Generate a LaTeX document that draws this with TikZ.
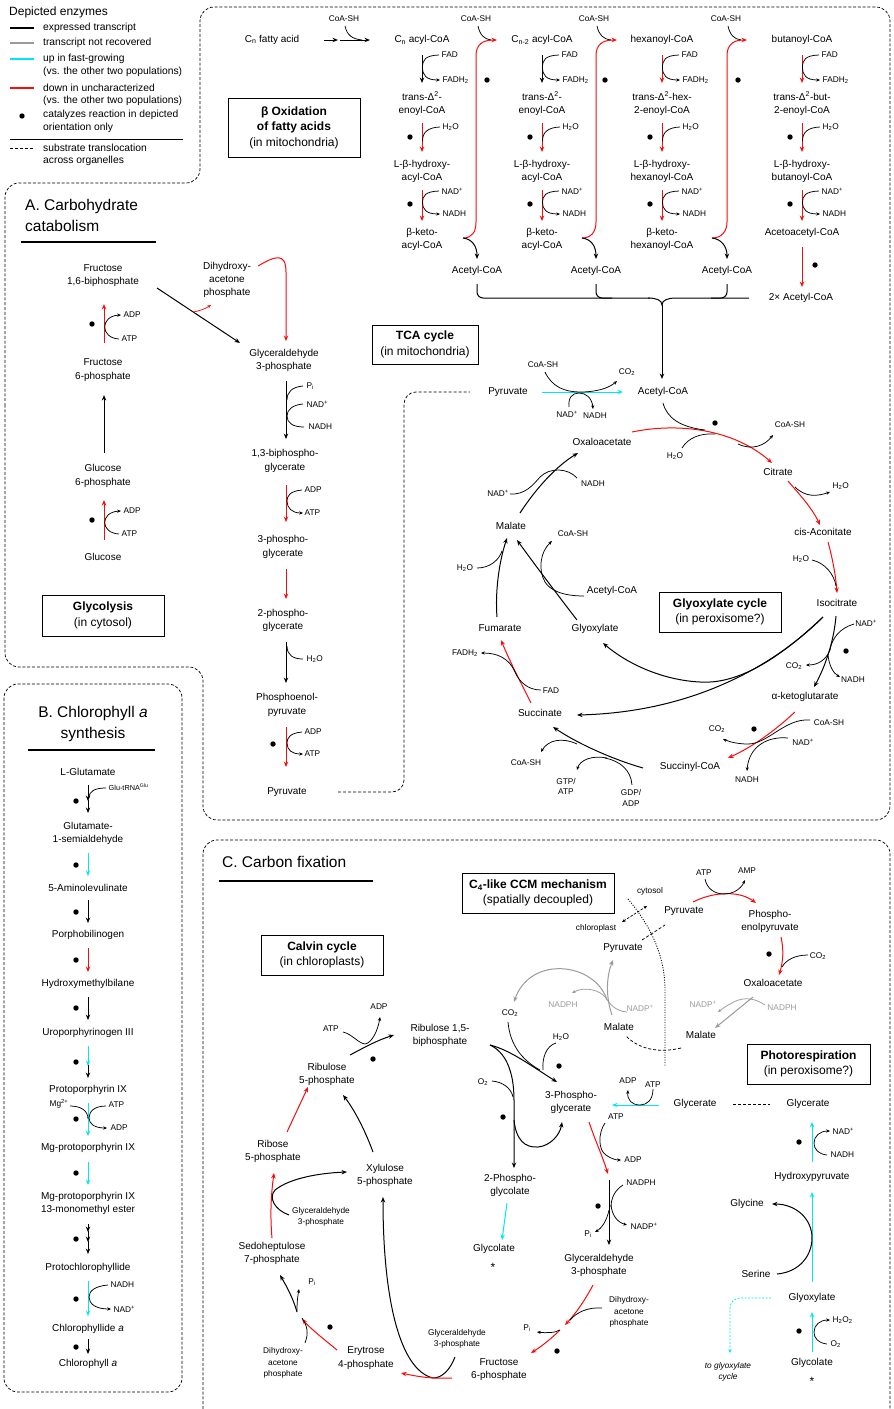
\documentclass[tikz,border=0pt]{standalone}
\usepackage{fontspec}
\setmainfont{Liberation Sans}
\usetikzlibrary{arrows.meta}
\definecolor{rd}{RGB}{250,12,12}
\definecolor{cy}{RGB}{0,232,245}
\definecolor{gy}{RGB}{155,155,155}
\newcommand\fmain{\fontsize{10}{13.2}\selectfont}
\newcommand\fsmall{\fontsize{8.3}{10.5}\selectfont}
\newcommand\ftiny{\fontsize{8.3}{11.3}\selectfont}
\newcommand\fbigt{\fontsize{15.5}{20}\selectfont}
\newcommand\fboxtxt{\fontsize{12}{15.5}\selectfont}
\newcommand\fleg{\fontsize{10.3}{13}\selectfont}
\tikzset{
  lab/.style={font=\fmain, inner sep=0.5pt, align=center},
  sm/.style={font=\fsmall, inner sep=0.5pt, align=center},
  xs/.style={font=\ftiny, inner sep=0.5pt, align=center},
  leg/.style={font=\fleg, inner sep=0pt, anchor=west},
  tbox/.style={draw, line width=0.8pt, font=\fboxtxt, align=center, inner sep=0pt},
  ar/.style={line width=1pt, -{Stealth[length=5.5pt,width=4.4pt]}},
  sa/.style={line width=0.75pt, -{Stealth[length=3.8pt,width=3.2pt]}},
  sl/.style={line width=0.75pt},
  dsh/.style={line width=0.75pt, dash pattern=on 3pt off 2pt},
  region/.style={line width=0.7pt, dash pattern=on 3pt off 1.8pt, rounded corners=14pt},
  star/.style={font=\fontsize{12}{12}\selectfont, inner sep=0pt},
}
\newcommand\dt[1]{\fill #1 circle (2.7pt);}
\newcommand\rxn[6]{%
  \draw[sa] ({#1+17},#2) .. controls ({#1+3},{#2+0.5}) and ({#1+0.5},{#2+5}) .. ({#1+0.5},{(#2+#3)/2}) .. controls ({#1+0.5},{#3-5}) and ({#1+4},{#3}) .. ({#1+18},#3);
  \node[sm,anchor=west] (#6a) at ({#1+19},#2) {#4};
  \node[sm,anchor=west] (#6b) at ({#1+20},#3) {#5};}
\newcommand\rin[4]{%
  \draw[sl] ({#1+18},#2) .. controls ({#1+6},{#2+0.5}) and ({#1+0.5},{#2+5}) .. ({#1+0.5},{#2+14});
  \node[sm,anchor=west] (#4) at ({#1+20},#2) {#3};}
\begin{document}
\begin{tikzpicture}[x=1pt,y=-1pt]
\fill[white] (0,0) rectangle (894,1409);
\useasboundingbox (0,0) rectangle (894,1409);

% ---------------- legend
\node[font=\fboxtxt, inner sep=0pt, anchor=west] (legt) at (9,12) {Depicted enzymes};
\draw[line width=1.1pt] (10,28) -- (34,28);
\draw[line width=1.1pt, gy] (10,43) -- (34,43);
\draw[line width=1.1pt, cy] (10,59) -- (34,59);
\draw[line width=1.1pt, rd] (10,88) -- (34,88);
\dt{(22,116)}
\draw[line width=0.9pt] (10,139) -- (183,139);
\draw[line width=0.9pt, dash pattern=on 3pt off 2pt] (10,148) -- (34,148);
\node[leg] (lg1) at (43,28) {expressed transcript};
\node[leg] (lg2) at (43,43) {transcript not recovered};
\node[leg] (lg3) at (43,59) {up in fast-growing};
\node[leg] (lg4) at (43,72) {(vs. the other two populations)};
\node[leg] (lg5) at (43,88) {down in uncharacterized};
\node[leg] (lg6) at (43,101) {(vs. the other two populations)};
\node[leg] (lg7) at (43,115) {catalyzes reaction in depicted};
\node[leg] (lg8) at (43,128) {orientation only};
\node[leg] (lg9) at (43,148) {substrate translocation};
\node[leg] (lg10) at (43,161) {across organelles};

% ---------------- region outlines
\draw[region] (5,420) -- (5,183) -- (200,183) -- (200,7) -- (890,7) -- (890,820) -- (203,820) -- (203,667) -- (5,667) -- cycle;
\draw[region] (4,684) rectangle (182,1392);
\draw[region] (203,840) rectangle (890,1425);

% ---------------- A title
\node[font=\fbigt, inner sep=0pt, anchor=west] (at1) at (25,206) {A. Carbohydrate};
\node[font=\fbigt, inner sep=0pt, anchor=west] (at2) at (25,226) {catabolism};
\draw[line width=1.2pt] (21,242) -- (156,242);

% ---------------- glycolysis, left column
\node[lab] (fbp) at (103,275.5) {Fructose\\1,6-biphosphate};
\node[lab] (f6p) at (103,370) {Fructose\\6-phosphate};
\node[lab] (g6p) at (103,476) {Glucose\\6-phosphate};
\node[lab] (glc) at (103,557) {Glucose};
\draw[ar, rd] (104,343) -- (104,304);
\dt{(92,324)}
\draw[sa] (119,339) .. controls (100,338) and (100,316) .. (121,315);
\node[sm, anchor=west] (adp1) at (123,315) {ADP};
\node[sm, anchor=west] (atp1) at (121,339) {ATP};
\draw[ar] (104,453) -- (104,395);
\draw[ar, rd] (104,540) -- (104,500);
\dt{(92,520)}
\draw[sa] (119,534) .. controls (100,533) and (100,512) .. (121,511);
\node[sm, anchor=west] (adp2) at (123,511) {ADP};
\node[sm, anchor=west] (atp2) at (121,534) {ATP};
\node[tbox, minimum width=122pt, minimum height=41pt] (glybox) at (103,615.5) {\textbf{Glycolysis}\\(in cytosol)};

% ---------------- glycolysis, middle column
\node[lab] (dhap) at (227,280) {Dihydroxy-\\acetone\\phosphate};
\draw[ar] (157,288) -- (240,343);
\draw[sa, rd] (193,312) .. controls (199,311) and (205,309) .. (211,305);
\draw[ar, rd] (258,266) .. controls (275,256) and (286,252) .. (286,272) -- (286,341);
\node[lab] (gap) at (284,360.5) {Glyceraldehyde\\3-phosphate};
\draw[ar] (286,381) -- (286,439);
\draw[sl] (303,386) .. controls (292,387) and (287,392) .. (287,400);
\draw[sl] (303,404) .. controls (292,405) and (287,410) .. (287,416) .. controls (287,423) and (293,427) .. (304,427);
\node[sm, anchor=west] (pi1) at (306,386) {P\textsubscript{i}};
\node[sm, anchor=west] (nad1) at (306,404) {NAD\textsuperscript{+}};
\node[sm, anchor=west] (nadh1) at (308,427) {NADH};
\node[lab] (bpg) at (285,461) {1,3-biphospho-\\glycerate};
\draw[ar, rd] (286,485) -- (286,522);
\draw[sa] (302,490) .. controls (290,491) and (287,496) .. (287,501) .. controls (287,508) and (292,513) .. (303,513);
\node[sm, anchor=west] (adp3) at (304,490) {ADP};
\node[sm, anchor=west] (atp3) at (304,513) {ATP};
\node[lab] (pg3) at (283,547) {3-phospho-\\glycerate};
\draw[ar, rd] (286,569) -- (286,599);
\node[lab] (pg2) at (283,620.5) {2-phospho-\\glycerate};
\draw[ar] (286,642) -- (286,683);
\draw[sl] (287,646) .. controls (287,655) and (293,659) .. (303,659);
\node[sm, anchor=west] (h2o1) at (306,659) {H\textsubscript{2}O};
\node[lab] (pep) at (287,705) {Phosphoenol-\\pyruvate};
\draw[ar, rd] (286,727) -- (286,767);
\dt{(273,744)}
\draw[sa] (302,732) .. controls (290,733) and (287,738) .. (287,743) .. controls (287,750) and (292,754) .. (303,754);
\node[sm, anchor=west] (adp4) at (304,732) {ADP};
\node[sm, anchor=west] (atp4) at (304,754) {ATP};
\node[lab] (pyr) at (287,792) {Pyruvate};
\draw[dsh, rounded corners=12pt] (338,792) -- (404,792) -- (404,392) -- (470,392);

\node[tbox, minimum width=106pt, minimum height=39pt] (tcabox) at (425,344.5) {\textbf{TCA cycle}\\(in mitochondria)};

% ---------------- beta oxidation
\node[tbox, minimum width=132pt, minimum height=59pt] (bbox) at (294,127.5) {\textbf{β Oxidation}\\\textbf{of fatty acids}\\(in mitochondria)};
\node[lab] (fa) at (272,39.5) {C\textsubscript{n} fatty acid};
\draw[ar] (324,40) -- (338,40);
\draw[ar] (340,40) -- (370,40);
\draw[sl] (345,26) .. controls (347,35) and (352,39) .. (362,40);
\node[sm] (coa0) at (344,19) {CoA-SH};
% column 1
\node[lab] (b1a) at (422,40) {C\textsubscript{n} acyl-CoA};
\draw[ar] (422,55) -- (422,83);
\rxn{422}{55}{80}{FAD}{FADH\textsubscript{2}}{b1f}
\node[lab] (b1b) at (422,103.5) {trans-Δ\textsuperscript{2}-\\enoyl-CoA};
\draw[ar,rd] (422,123) -- (422,152);
\dt{(410,137)}
\rin{422}{127}{H\textsubscript{2}O}{b1h}
\node[lab] (b1c) at (422,171.5) {L-β-hydroxy-\\acyl-CoA};
\draw[ar,rd] (422,190) -- (422,221);
\dt{(410,204)}
\rxn{422}{191}{214}{NAD\textsuperscript{+}}{NADH}{b1n}
\node[lab] (b1d) at (422,239.5) {β-keto-\\acyl-CoA};
% column 2
\node[lab] (b2a) at (542,40) {C\textsubscript{n-2} acyl-CoA};
\draw[ar] (542,55) -- (542,83);
\rxn{542}{55}{80}{FAD}{FADH\textsubscript{2}}{b2f}
\node[lab] (b2b) at (542,103.5) {trans-Δ\textsuperscript{2}-\\enoyl-CoA};
\draw[ar,rd] (542,123) -- (542,152);
\dt{(530,137)}
\rin{542}{127}{H\textsubscript{2}O}{b2h}
\node[lab] (b2c) at (542,171.5) {L-β-hydroxy-\\acyl-CoA};
\draw[ar,rd] (542,190) -- (542,221);
\dt{(530,204)}
\rxn{542}{191}{214}{NAD\textsuperscript{+}}{NADH}{b2n}
\node[lab] (b2d) at (542,239.5) {β-keto-\\acyl-CoA};
% column 3
\node[lab] (b3a) at (662,40) {hexanoyl-CoA};
\draw[ar,rd] (662,55) -- (662,83);
\rxn{662}{55}{80}{FAD}{FADH\textsubscript{2}}{b3f}
\node[lab] (b3b) at (662,103.5) {trans-Δ\textsuperscript{2}-hex-\\2-enoyl-CoA};
\draw[ar,rd] (662,123) -- (662,152);
\dt{(650,137)}
\rin{662}{127}{H\textsubscript{2}O}{b3h}
\node[lab] (b3c) at (662,171.5) {L-β-hydroxy-\\hexanoyl-CoA};
\draw[ar,rd] (662,190) -- (662,221);
\dt{(650,204)}
\rxn{662}{191}{214}{NAD\textsuperscript{+}}{NADH}{b3n}
\node[lab] (b3d) at (662,239.5) {β-keto-\\hexanoyl-CoA};
% column 4
\node[lab] (b4a) at (802,40) {butanoyl-CoA};
\draw[ar,rd] (802,55) -- (802,83);
\rxn{802}{55}{80}{FAD}{FADH\textsubscript{2}}{b4f}
\node[lab] (b4b) at (802,103.5) {trans-Δ\textsuperscript{2}-but-\\2-enoyl-CoA};
\draw[ar,rd] (802,123) -- (802,152);
\dt{(790,137)}
\rin{802}{127}{H\textsubscript{2}O}{b4h}
\node[lab] (b4c) at (802,171.5) {L-β-hydroxy-\\butanoyl-CoA};
\draw[ar,rd] (802,190) -- (802,221);
\dt{(790,204)}
\rxn{802}{191}{214}{NAD\textsuperscript{+}}{NADH}{b4n}
\node[lab] (b4d) at (802,233) {Acetoacetyl-CoA};
\draw[ar,rd] (802,247) -- (802,287);
\dt{(815,265)}
\node[lab] (acx) at (801,298) {2× Acetyl-CoA};
% thiolase steps
\draw[ar, rd] (463,238) .. controls (472,238) and (476,232) .. (476,222) -- (476,56) .. controls (476,45) and (482,40) .. (497,40);
\draw[ar] (463,238) .. controls (472,239) and (477,246) .. (477,259);
\draw[sl] (478,26) .. controls (480,35) and (484,39) .. (491,40);
\node[sm] (coa1) at (476,19) {CoA-SH};
\dt{(487,80)}
\node[lab] (ac1) at (477,271) {Acetyl-CoA};
\draw[ar, rd] (582,238) .. controls (591,238) and (596,232) .. (596,222) -- (596,56) .. controls (596,45) and (602,40) .. (617,40);
\draw[ar] (582,238) .. controls (591,239) and (596,246) .. (596,259);
\draw[sl] (597,26) .. controls (599,35) and (603,39) .. (611,40);
\node[sm] (coa2) at (594,19) {CoA-SH};
\dt{(605,80)}
\node[lab] (ac2) at (596,271) {Acetyl-CoA};
\draw[ar, rd] (712,238) .. controls (721,238) and (727,232) .. (727,222) -- (727,56) .. controls (727,45) and (733,40) .. (747,40);
\draw[ar] (712,238) .. controls (721,239) and (727,246) .. (727,259);
\draw[sl] (728,26) .. controls (730,35) and (734,39) .. (741,40);
\node[sm] (coa3) at (726,19) {CoA-SH};
\dt{(738,80)}
\node[lab] (ac3) at (727,271) {Acetyl-CoA};
% bracket
\draw[line width=1pt, rounded corners=6pt] (477,284) -- (477,298) -- (650,298);
\draw[line width=1pt, rounded corners=6pt] (596,284) -- (596,298) -- (612,298);
\draw[line width=1pt, rounded corners=6pt] (727,284) -- (727,298) -- (711,298);
\draw[line width=1pt] (648,298) .. controls (656,298) and (662,300) .. (662,305) .. controls (662,300) and (668,298) .. (676,298) -- (749,298);

% ---------------- TCA cycle
\node[lab] (tpyr) at (508,392) {Pyruvate};
\node[lab] (tacc) at (663,392) {Acetyl-CoA};
\draw[ar] (662,305) -- (662,379);
\draw[ar, cy] (542,392) -- (623,392);
\draw[sa] (545,372) .. controls (552,387) and (565,392) .. (580,392) .. controls (597,392) and (609,388) .. (617,381);
\node[sm] (tcoa1) at (543,365) {CoA-SH};
\node[sm] (tco21) at (627,372) {CO\textsubscript{2}};
\draw[sa] (569,407) .. controls (568,398) and (572,393) .. (579,393) .. controls (586,393) and (592,398) .. (593,409);
\node[sm] (tnad1) at (567,414) {NAD\textsuperscript{+}};
\node[sm] (tnadh1) at (595,416) {NADH};
\node[lab] (oaa) at (602,442) {Oxaloacetate};
\node[lab] (cit) at (778,472) {Citrate};
\draw[ar, rd] (632,432) .. controls (680,422) and (735,430) .. (772,463);
\draw[sl] (663,403) .. controls (667,418) and (680,427) .. (705,430);
\draw[sl] (682,448) .. controls (688,438) and (700,433) .. (715,434);
\draw[sa] (738,444) .. controls (753,451) and (765,445) .. (773,435);
\node[sm] (th2o1) at (675,456) {H\textsubscript{2}O};
\node[sm] (tcoa2) at (790,425) {CoA-SH};
\dt{(715,423)}
\draw[ar, rd] (788,481) .. controls (800,495) and (812,508) .. (820,525);
\draw[sa] (795,487) .. controls (806,498) and (818,496) .. (830,492);
\node[sm, anchor=west] (th2o2) at (832,486) {H\textsubscript{2}O};
\node[lab] (cis) at (823,532) {cis-Aconitate};
\draw[ar, rd] (828,542) .. controls (833,560) and (836,578) .. (837,593);
\draw[sl] (812,560) .. controls (825,563) and (834,574) .. (836,586);
\node[sm] (th2o3) at (801,559) {H\textsubscript{2}O};
\node[lab] (iso) at (837,603) {Isocitrate};
\draw[ar] (836,616) .. controls (834,640) and (826,665) .. (814,687);
\draw[sl] (854,624) .. controls (840,628) and (832,638) .. (830,650);
\draw[sa] (830,650) .. controls (826,660) and (818,665) .. (806,665);
\draw[sa] (828,655) .. controls (829,665) and (833,673) .. (840,677);
\node[sm] (tnad2) at (866,623) {NAD\textsuperscript{+}};
\node[sm] (tco22) at (794,666) {CO\textsubscript{2}};
\node[sm] (tnadh2) at (853,680) {NADH};
\dt{(846,651)}
\node[lab] (akg) at (805,697) {α-ketoglutarate};
\draw[ar, rd] (795,712) .. controls (772,733) and (752,747) .. (728,758);
\draw[sa] (810,720) .. controls (785,718) and (768,744) .. (748,744) .. controls (738,744) and (730,742) .. (723,739);
\draw[sa] (788,738) .. controls (768,736) and (749,746) .. (747,771);
\node[sm] (tcoa3) at (829,723) {CoA-SH};
\node[sm] (tnad3) at (803,742) {NAD\textsuperscript{+}};
\node[sm] (tco23) at (717,729) {CO\textsubscript{2}};
\node[sm] (tnadh3) at (747,780) {NADH};
\dt{(754,729)}
\node[lab] (scoa) at (690,767) {Succinyl-CoA};
\draw[ar] (643,768) .. controls (615,760) and (580,745) .. (553,727);
\draw[sl] (632,785) .. controls (631,770) and (620,761) .. (605,758);
\draw[sa] (607,758) .. controls (592,755) and (580,760) .. (577,770);
\draw[sa] (577,744) .. controls (562,737) and (548,740) .. (541,752);
\node[sm] (tgdp) at (631,798) {GDP/\\ADP};
\node[sm] (tgtp) at (566,786.5) {GTP/\\ATP};
\node[sm] (tcoa4) at (526,763) {CoA-SH};
\node[lab] (succ) at (540,713) {Succinate};
\draw[ar, rd] (531,703) .. controls (522,685) and (510,662) .. (501,640);
\draw[sl] (541,690) .. controls (527,690) and (519,681) .. (515,672);
\draw[sa] (515,672) .. controls (509,658) and (497,653) .. (481,653);
\node[sm] (tfad) at (551,691) {FAD};
\node[sm] (tfadh) at (465,653) {FADH\textsubscript{2}};
\node[lab] (fum) at (500,628) {Fumarate};
\draw[ar] (497,617) .. controls (495,592) and (499,562) .. (507,538);
\draw[sl] (477,568) .. controls (490,568) and (499,560) .. (502,551);
\node[sm] (th2o4) at (465,568) {H\textsubscript{2}O};
\node[lab] (mal) at (511,526) {Malate};
\draw[ar] (520,513) .. controls (535,490) and (555,467) .. (578,453);
\draw[sl] (510,494) .. controls (525,495) and (533,485) .. (540,477) .. controls (550,467) and (568,468) .. (577,478);
\node[sm] (tnad4) at (498,493) {NAD\textsuperscript{+}};
\node[sm] (tnadh4) at (593,484) {NADH};
% glyoxylate shunt
\draw[ar] (823,617) .. controls (790,648) and (745,685) .. (700,682) .. controls (660,680) and (625,662) .. (603,643);
\draw[ar] (823,617) .. controls (780,660) and (700,712) .. (577,715);
\node[lab] (glx) at (595,629) {Glyoxylate};
\draw[ar] (577,620) .. controls (560,598) and (535,565) .. (517,540);
\draw[sa] (584,596) .. controls (562,596) and (550,590) .. (545,582) .. controls (538,570) and (540,552) .. (552,541);
\node[lab] (acoa2) at (612,591) {Acetyl-CoA};
\node[sm] (tcoa5) at (573,534) {CoA-SH};
\node[tbox, minimum width=122pt, minimum height=40pt] (gxbox) at (720,612) {\textbf{Glyoxylate cycle}\\(in peroxisome?)};

% ---------------- B chlorophyll
\node[font=\fbigt, inner sep=0pt] (bt1) at (93,713) {B. Chlorophyll \textit{a}};
\node[font=\fbigt, inner sep=0pt] (bt2) at (93,734) {synthesis};
\draw[line width=1.2pt] (28,750) -- (155,750);
\node[lab] (lglu) at (88,772) {L-Glutamate};
\draw[ar] (88,785) -- (88,801);
\draw[ar] (88,800) -- (88,813);
\dt{(76,801)}
\draw[sl] (106,788) .. controls (95,788) and (89,791) .. (89,798);
\node[font=\fontsize{7.3}{9}\selectfont, inner sep=0.5pt, anchor=west] (trna) at (108,787) {Glu-tRNA\textsuperscript{Glu}};
\node[lab] (gsa) at (88,833.5) {Glutamate-\\1-semialdehyde};
\draw[ar, cy] (88,853) -- (88,876);
\dt{(76,865)}
\node[lab] (ala) at (88,888) {5-Aminolevulinate};
\draw[ar] (88,900) -- (88,923);
\dt{(76,912)}
\node[lab] (pbg) at (88,935) {Porphobilinogen};
\draw[ar, rd] (88,948) -- (88,972);
\dt{(76,960)}
\node[lab] (hmb) at (88,984) {Hydroxymethylbilane};
\draw[ar] (88,997) -- (88,1020);
\dt{(76,1008)}
\node[lab] (uro) at (88,1033) {Uroporphyrinogen III};
\draw[ar, cy] (88,1046) -- (88,1066);
\draw[ar] (88,1065) -- (88,1078);
\dt{(76,1062)}
\node[lab] (proto) at (88,1090) {Protoporphyrin IX};
\draw[ar, cy] (88,1103) -- (88,1136);
\dt{(76,1119)}
\draw[sl] (70,1106) .. controls (80,1106) and (88,1110) .. (88,1119);
\draw[sa] (106,1106) .. controls (95,1106) and (89,1111) .. (89,1118) .. controls (89,1124) and (95,1128) .. (107,1128);
\node[sm] (mg) at (59,1104) {Mg\textsuperscript{2+}};
\node[sm, anchor=west] (atpb) at (108,1105) {ATP};
\node[sm, anchor=west] (adpb) at (110,1128) {ADP};
\node[lab] (mgp) at (88,1148) {Mg-protoporphyrin IX};
\draw[ar, cy] (88,1162) -- (88,1185);
\dt{(76,1173)}
\node[lab] (mgpm) at (88,1203) {Mg-protoporphyrin IX\\13-monomethyl ester};
\draw[ar] (88,1224) -- (88,1232);
\draw[ar] (88,1231) -- (88,1242);
\draw[ar] (88,1241) -- (88,1254);
\dt{(76,1239)}
\node[lab] (pchl) at (88,1268) {Protochlorophyllide};
\draw[ar, cy] (88,1281) -- (88,1316);
\dt{(76,1299)}
\draw[sa] (108,1285) .. controls (95,1286) and (89,1291) .. (89,1297) .. controls (89,1304) and (96,1309) .. (111,1309);
\node[sm, anchor=west] (nadhb) at (110,1285) {NADH};
\node[sm, anchor=west] (nadb) at (113,1309) {NAD\textsuperscript{+}};
\node[lab] (chlide) at (88,1329) {Chlorophyllide \textit{a}};
\draw[ar] (88,1339) -- (88,1354);
\dt{(76,1347)}
\node[lab] (chl) at (88,1364) {Chlorophyll \textit{a}};

% ---------------- C carbon fixation
\node[font=\fbigt, inner sep=0pt, anchor=west] (ct) at (222,862) {C. Carbon fixation};
\draw[line width=1.2pt] (219,881) -- (373,881);
\node[tbox, minimum width=122pt, minimum height=40pt] (calbox) at (322,955) {\textbf{Calvin cycle}\\(in chloroplasts)};
% Calvin cycle
\node[lab] (rubp) at (440,1035.5) {Ribulose 1,5-\\biphosphate};
\node[lab] (ru5p) at (327,1074) {Ribulose\\5-phosphate};
\draw[ar] (350,1055) .. controls (365,1047) and (378,1040) .. (394,1035);
\draw[sa] (343,1032) .. controls (352,1034) and (358,1043) .. (365,1044) .. controls (372,1043) and (378,1030) .. (380,1017);
\node[sm] (atpc) at (331,1029) {ATP};
\node[sm] (adpc) at (379,1007) {ADP};
\dt{(373,1059)}
\draw[ar, rd] (287,1132) -- (308,1087);
\node[lab] (r5p) at (273,1151.5) {Ribose\\5-phosphate};
\draw[ar] (373,1152) .. controls (366,1133) and (356,1112) .. (343,1095);
\node[lab] (xu5p) at (385,1175) {Xylulose\\5-phosphate};
\draw[ar, rd] (272,1238) .. controls (270,1215) and (271,1195) .. (274,1173);
\draw[ar] (289,1215) .. controls (275,1210) and (268,1198) .. (275,1190) .. controls (290,1178) and (320,1173) .. (347,1172);
\node[xs] (g3pa) at (321,1216.5) {Glyceraldehyde\\3-phosphate};
\node[lab] (s7p) at (272,1253.5) {Sedoheptulose\\7-phosphate};
\draw[ar] (297,1312) .. controls (293,1298) and (287,1287) .. (280,1275);
\draw[sa] (297,1311) .. controls (297,1300) and (298,1295) .. (299,1289);
\node[sm] (pic) at (312,1282) {P\textsubscript{i}};
\draw[ar, rd] (337,1350) .. controls (325,1340) and (312,1330) .. (302,1319);
\draw[sl] (305,1343) .. controls (309,1333) and (307,1325) .. (302,1318);
\dt{(330,1327)}
\node[xs] (dhapc) at (283,1363) {Dihydroxy-\\acetone\\phosphate};
\node[lab] (e4p) at (366,1358) {Erytrose\\4-phosphate};
\draw[ar] (455,1357) .. controls (450,1370) and (442,1378) .. (433,1378) .. controls (400,1370) and (383,1300) .. (383,1197);
\draw[ar, rd] (452,1378) .. controls (430,1379) and (415,1376) .. (401,1373);
\node[xs] (g3pb) at (457,1338.5) {Glyceraldehyde\\3-phosphate};
\node[lab] (f6pc) at (499,1369.5) {Fructose\\6-phosphate};
% RuBisCO
\node[lab] (pga) at (571,1102.5) {3-Phospho-\\glycerate};
\node[lab] (pgl) at (510,1185.5) {2-Phospho-\\glycolate};
\node[sm] (co2c) at (510,1013) {CO\textsubscript{2}};
\draw[sl] (508,1022) .. controls (510,1045) and (522,1060) .. (540,1070);
\draw[ar] (490,1045) .. controls (510,1050) and (530,1065) .. (557,1082);
\draw[ar] (490,1045) .. controls (505,1052) and (514,1070) .. (514,1100) -- (514,1168);
\draw[ar] (514,1120) .. controls (516,1140) and (525,1148) .. (538,1147) .. controls (550,1146) and (560,1135) .. (562,1122);
\draw[sl] (556,1043) .. controls (546,1046) and (542,1058) .. (543,1070);
\node[sm] (h2oc) at (561,1037) {H\textsubscript{2}O};
\dt{(559,1066)}
\draw[sl] (492,1081) .. controls (503,1082) and (511,1088) .. (513,1097);
\node[sm] (o2c) at (483,1082) {O\textsubscript{2}};
\dt{(503,1117)}
\draw[ar, cy] (507,1203) -- (502,1240);
\node[lab] (glyc) at (494,1249) {Glycolate};
\node[star] (star1) at (493,1267) {*};
% 3-PG reduction
\draw[ar, cy] (659,1105) -- (612,1105);
\draw[sa] (653,1089) .. controls (653,1100) and (647,1105) .. (640,1105) .. controls (632,1105) and (627,1100) .. (628,1090);
\node[sm] (adpd) at (628,1081) {ADP};
\node[sm] (atpd) at (653,1085) {ATP};
\node[lab] (glyc1) at (695,1104) {Glycerate};
\draw[dsh] (733,1104) -- (770,1104);
\node[lab] (glyc2) at (808,1104) {Glycerate};
\draw[ar, rd] (589,1122) .. controls (595,1140) and (602,1155) .. (608,1174);
\draw[sa] (605,1123) .. controls (598,1133) and (598,1150) .. (606,1155) .. controls (610,1158) and (615,1160) .. (621,1160);
\node[sm] (atpe) at (616,1117) {ATP};
\node[sm] (adpe) at (633,1160) {ADP};
\draw[ar] (609,1180) -- (609,1245);
\draw[sl] (623,1185) .. controls (615,1190) and (611,1198) .. (611,1207);
\draw[sa] (611,1205) .. controls (612,1215) and (617,1222) .. (627,1225);
\draw[sa] (609,1210) .. controls (607,1220) and (602,1228) .. (595,1232);
\node[sm] (nadphc) at (641,1183) {NADPH};
\node[sm] (nadpc) at (644,1226) {NADP\textsuperscript{+}};
\node[sm] (pie) at (588,1234) {P\textsubscript{i}};
\dt{(598,1206)}
\node[lab] (g3pc) at (599,1265) {Glyceraldehyde\\3-phosphate};
\draw[ar, rd] (593,1285) .. controls (585,1300) and (577,1312) .. (565,1325);
\draw[sl] (602,1308) .. controls (588,1307) and (577,1312) .. (570,1320);
\node[xs] (dhape) at (629,1312) {Dihydroxy-\\acetone\\phosphate};
\draw[ar, rd] (560,1330) .. controls (552,1338) and (542,1346) .. (531,1353);
\draw[sa] (560,1330) .. controls (555,1333) and (546,1333) .. (537,1332);
\node[sm] (pif) at (527,1328) {P\textsubscript{i}};
\dt{(557,1351)}
% C4-like CCM
\node[tbox, minimum width=152pt, minimum height=40pt] (c4box) at (538,893) {\textbf{C\textsubscript{4}-like CCM mechanism}\\(spatially decoupled)};
\node[sm] (cyto) at (650,891) {cytosol};
\node[sm] (chlp) at (596,928) {chloroplast};
\draw[line width=0.9pt, dash pattern=on 1pt off 1.5pt] (628,899) .. controls (650,925) and (665,955) .. (665,990) -- (665,1067);
\draw[line width=0.7pt, dash pattern=on 2.5pt off 1.5pt, {Stealth[length=3.5pt,width=3pt]}-{Stealth[length=3.5pt,width=3pt]}] (622,922) -- (647,906);
\node[lab] (pyrc) at (684,911) {Pyruvate};
\node[lab] (pyrk) at (623,948) {Pyruvate};
\draw[dsh] (642,940) -- (665,925);
\draw[ar, rd] (693,902) .. controls (715,891) and (740,891) .. (756,903);
\draw[sa] (705,879) .. controls (707,889) and (715,894) .. (724,894) .. controls (733,894) and (741,889) .. (745,880);
\node[sm] (atpf) at (704,873) {ATP};
\node[sm] (ampf) at (747,871) {AMP};
\node[lab] (pepc) at (770,921.5) {Phospho-\\enolpyruvate};
\draw[ar, rd] (781,937) .. controls (784,950) and (783,962) .. (779,975);
\draw[sl] (808,955) .. controls (795,955) and (786,960) .. (782,967);
\node[sm] (co2f) at (818,956) {CO\textsubscript{2}};
\dt{(769,954)}
\node[lab] (oaac) at (773,983) {Oxaloacetate};
\draw[ar, gy] (753,997) -- (715,1028);
\draw[sa, gy] (765,1005) .. controls (752,996) and (740,998) .. (732,1003) .. controls (726,1006) and (722,1009) .. (718,1012);
\node[sm, text=gy] (nadphf) at (782,1008) {NADPH};
\node[sm, text=gy] (nadpf) at (703,1004) {NADP\textsuperscript{+}};
\node[lab] (malc) at (701,1035) {Malate};
\draw[dsh] (681,1048) .. controls (660,1053) and (640,1050) .. (626,1036);
\node[lab] (malk) at (619,1027) {Malate};
\draw[ar, gy] (612,1015) .. controls (605,995) and (607,975) .. (613,960);
\draw[ar, gy] (607,1000) .. controls (595,962) and (530,955) .. (514,1002);
\draw[sa, gy] (627,1012) .. controls (615,1011) and (610,1004) .. (606,998) .. controls (600,990) and (585,986) .. (572,993);
\node[sm, text=gy] (nadpk) at (640,1008) {NADP\textsuperscript{+}};
\node[sm, text=gy] (nadphk) at (563,1005) {NADPH};
% photorespiration
\node[tbox, minimum width=123pt, minimum height=40pt] (prbox) at (808.5,1064) {\textbf{Photorespiration}\\(in peroxisome?)};
\draw[ar, cy] (812,1162) -- (812,1122);
\draw[sa] (827,1155) .. controls (818,1154) and (814,1149) .. (814,1143) .. controls (814,1136) and (820,1131) .. (830,1131);
\node[sm, anchor=west] (nadg) at (832,1131) {NAD\textsuperscript{+}};
\node[sm, anchor=west] (nadhg) at (830,1155) {NADH};
\dt{(799,1142)}
\node[lab] (hpyr) at (812,1177) {Hydroxypyruvate};
\draw[ar, cy] (812,1282) -- (812,1192);
\draw[ar] (777,1274) .. controls (800,1272) and (812,1255) .. (812,1238) .. controls (812,1218) and (795,1204) .. (772,1204);
\node[lab] (glycine) at (747,1204) {Glycine};
\node[lab] (serine) at (756,1274) {Serine};
\node[lab] (glyox) at (812,1298) {Glyoxylate};
\draw[ar, cy] (812,1352) -- (812,1312);
\draw[sa] (827,1344) .. controls (818,1343) and (814,1338) .. (814,1332) .. controls (814,1325) and (820,1320) .. (830,1320);
\node[sm, anchor=west] (h2o2g) at (832,1320) {H\textsubscript{2}O\textsubscript{2}};
\node[sm, anchor=west] (o2g) at (830,1344) {O\textsubscript{2}};
\dt{(799,1331)}
\node[lab] (glycolg) at (812,1363) {Glycolate};
\node[star] (star2) at (812,1381) {*};
\draw[sa, cy, dash pattern=on 2pt off 1.5pt, rounded corners=10pt] (771,1298) -- (730,1298) -- (730,1353);
\node[xs, font=\ftiny\itshape] (toglx) at (728,1371.5) {to glyoxylate\\cycle};
\end{tikzpicture}
\end{document}
